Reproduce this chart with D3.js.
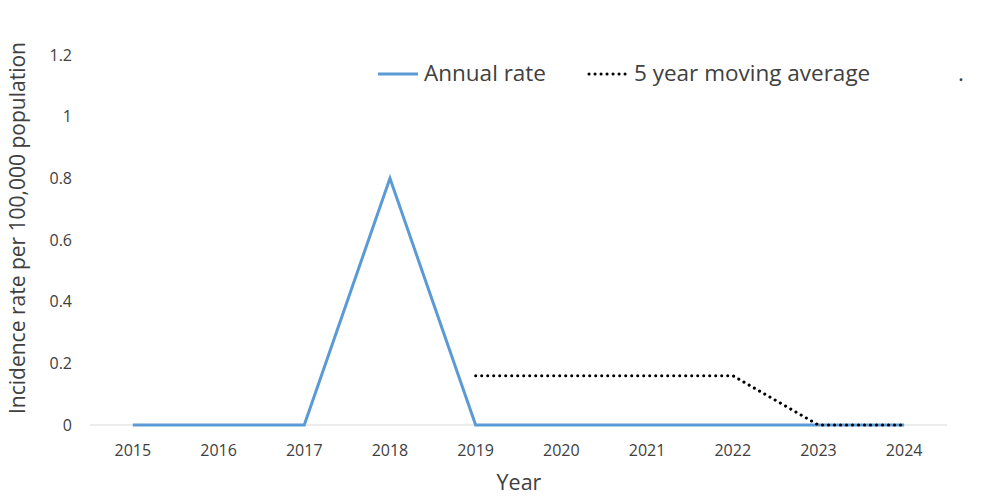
<!DOCTYPE html>
<html>
<head>
<meta charset="utf-8">
<script src="https://cdn.jsdelivr.net/npm/d3@7"></script>
<style>
  body { margin: 0; background: #fff; }
  text { font-family: "Open Sans", "Noto Sans", sans-serif; fill: #404040; }
</style>
</head>
<body>
<div id="chart"></div>
<script>
// data
var years = [2015, 2016, 2017, 2018, 2019, 2020, 2021, 2022, 2023, 2024]
var annualRate = [0, 0, 0, 0.8, 0, 0, 0, 0, 0, 0]
var avgYears = [2019, 2020, 2021, 2022, 2023, 2024]
var movingAvg = [0.16, 0.16, 0.16, 0.16, 0, 0]
var yTicks = [0, 0.2, 0.4, 0.6, 0.8, 1, 1.2]

var width = 1000, height = 499

var svg = d3.select("#chart")
  .append("svg")
    .attr("width", width)
    .attr("height", height)

var x = d3.scalePoint()
  .domain(years)
  .range([90, 947])
  .padding(0.5)

var y = d3.scaleLinear()
  .domain([0, 1.2])
  .range([425, 55])

// baseline
svg.append("line")
  .attr("x1", 90).attr("x2", 947)
  .attr("y1", y(0)).attr("y2", y(0))
  .attr("stroke", "#d9d9d9")
  .attr("stroke-width", 1)

// y tick labels
svg.selectAll("yLabels")
  .data(yTicks)
  .join("text")
    .attr("x", 72)
    .attr("y", function(d){ return y(d) })
    .attr("dy", "0.35em")
    .attr("text-anchor", "end")
    .style("font-size", "16px")
    .text(function(d){ return d })

// x tick labels
svg.selectAll("xLabels")
  .data(years)
  .join("text")
    .attr("x", function(d){ return x(d) })
    .attr("y", 456)
    .attr("text-anchor", "middle")
    .style("font-size", "16px")
    .text(function(d){ return d })

// axis titles
svg.append("text")
  .attr("x", 519)
  .attr("y", 490)
  .attr("text-anchor", "middle")
  .style("font-size", "21.5px")
  .text("Year")

svg.append("text")
  .attr("transform", "translate(25,228) rotate(-90)")
  .attr("text-anchor", "middle")
  .style("font-size", "21px")
  .text("Incidence rate per 100,000 population")

var line = d3.line()
  .x(function(d){ return x(d[0]) })
  .y(function(d){ return y(d[1]) })

svg.append("path")
  .datum(d3.zip(years, annualRate))
  .attr("d", line)
  .attr("fill", "none")
  .attr("stroke", "#5b9bd5")
  .attr("stroke-width", 3)

svg.append("path")
  .datum(d3.zip(avgYears, movingAvg))
  .attr("d", line)
  .attr("fill", "none")
  .attr("stroke", "#000")
  .attr("stroke-width", 3)
  .attr("stroke-dasharray", "0.1 5.9")
  .attr("stroke-linecap", "round")

// legend
svg.append("line")
  .attr("x1", 378).attr("x2", 418)
  .attr("y1", 74).attr("y2", 74)
  .attr("stroke", "#5b9bd5")
  .attr("stroke-width", 3)
svg.append("text")
  .attr("x", 424).attr("y", 81)
  .style("font-size", "22.5px")
  .text("Annual rate")

svg.append("line")
  .attr("x1", 589).attr("x2", 626)
  .attr("y1", 74).attr("y2", 74)
  .attr("stroke", "#000")
  .attr("stroke-width", 3)
  .attr("stroke-dasharray", "0.1 5.9")
  .attr("stroke-linecap", "round")
svg.append("text")
  .attr("x", 634).attr("y", 81)
  .style("font-size", "22.5px")
  .text("5 year moving average")

svg.append("text")
  .attr("x", 958).attr("y", 81)
  .style("font-size", "22.5px")
  .text(".")
</script>
</body>
</html>
